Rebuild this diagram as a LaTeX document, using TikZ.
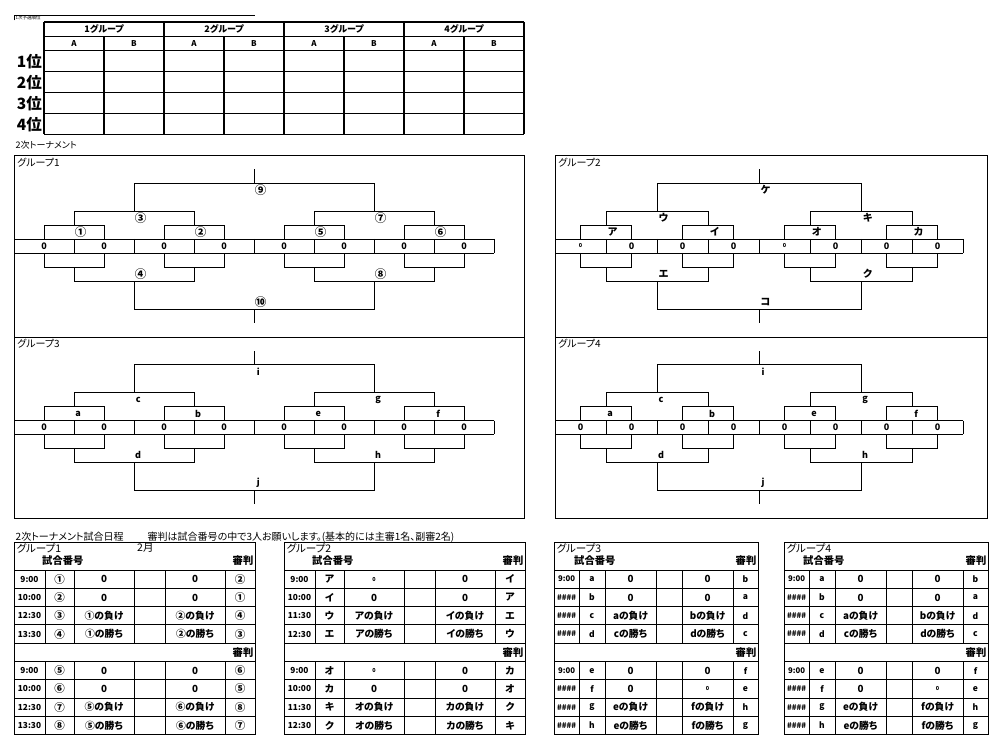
\documentclass[tikz,border=0pt]{standalone}
\usepackage{fontspec}
\setmainfont{Noto Sans CJK JP}[RawFeature=+palt]
\newcommand{\fs}[1]{\fontsize{#1}{#1}\selectfont}
\newcommand{\sm}{\fontsize{5.5}{5.5}\selectfont}
\tikzset{
  tt/.style={line width=1.2pt},
  bl/.style={line width=0.9pt},
  tl/.style={line width=0.9pt},
  blab/.style={inner sep=0pt, font=\fs{11.5}\bfseries},
  slab/.style={inner sep=0pt, font=\fs{9}\bfseries},
  bz/.style={inner sep=0pt, font=\fs{9}\bfseries},
  td/.style={inner sep=0pt, font=\fs{9.8}\bfseries},
  tm/.style={inner sep=0pt, font=\fs{8.3}\bfseries},
  ttl/.style={inner sep=0pt, font=\fs{10}},
  hdr/.style={inner sep=0pt, font=\fs{9}\bfseries},
}
% bracket lines in cell/row units
\newcommand{\bracketlines}[1]{%
  \draw[bl] (0,0) rectangle (#1,13);
  \draw[bl] (0,6) -- (8,6) (0,7) -- (8,7);
  \foreach \i in {0,...,8} {\draw[bl] (\i,6) -- (\i,7);}
  \foreach \k in {0,2,4,6} {%
    \draw[bl] (\k+0.5,6) -- (\k+0.5,5) -- (\k+1.5,5) -- (\k+1.5,6);
    \draw[bl] (\k+0.5,7) -- (\k+0.5,8) -- (\k+1.5,8) -- (\k+1.5,7);}
  \foreach \k in {0,4} {%
    \draw[bl] (\k+1,5) -- (\k+1,4) -- (\k+3,4) -- (\k+3,5);
    \draw[bl] (\k+1,8) -- (\k+1,9) -- (\k+3,9) -- (\k+3,8);}
  \draw[bl] (2,4) -- (2,2) -- (6,2) -- (6,4);
  \draw[bl] (4,2) -- (4,1);
  \draw[bl] (2,9) -- (2,11) -- (6,11) -- (6,9);
  \draw[bl] (4,11) -- (4,12);
}
% schedule table frame
\newcommand{\sched}[9]{%
  \draw[tl] (#1,542) rectangle (#7,734.5);
  \foreach \k in {0,...,8} {\draw[tl] (#1,{570+18.3*\k}) -- (#7,{570+18.3*\k});}
  \foreach \xx in {#2,#3,#4,#5,#6} {\draw[tl] (\xx,570) -- (\xx,643.2); \draw[tl] (\xx,661.5) -- (\xx,734.5);}
  \node[ttl,anchor=west,font=\fs{10.5}] at ({#1+2.5},548) {#8};
  \node[ttl,anchor=west,font=\fs{10.3}\bfseries] at (#9,560.5) {試合番号};
  \node[ttl,anchor=east,font=\fs{10.3}\bfseries] at ({#7-1.5},560.5) {審判};
  \node[ttl,anchor=east,font=\fs{10.3}\bfseries] at ({#7-1.5},652.3) {審判};
}
\begin{document}
\begin{tikzpicture}[x=1pt,y=-1pt]
\useasboundingbox (0,0) rectangle (995,735);
\fill[white] (0,0) rectangle (995,735);

% ---------- top ranking table ----------
\draw[tl] (14,20.5) -- (14,15) -- (255,15);
\node[anchor=north west, inner sep=0pt, font=\fs{4.5}] (pre) at (15.5,16) {1次予選順位};
\foreach \y in {22,36.7,50.7,71.7,92.7,113.6,134.5} {\draw[tt] (44,\y) -- (524,\y);}
\foreach \x in {44,164,284,404,524} {\draw[tt] (\x,22) -- (\x,134.5);}
\foreach \x in {104,224,344,464} {\draw[tt] (\x,36.7) -- (\x,134.5);}
\foreach \g [count=\n] in {1,2,3,4} {
  \node[hdr] (gh\n) at ({104+120*(\n-1)},29.5) {\g グループ};
  \node[hdr,font=\fs{8}\bfseries] (ga\n) at ({74+120*(\n-1)},43.8) {A};
  \node[hdr,font=\fs{8}\bfseries] (gb\n) at ({134+120*(\n-1)},43.8) {B};
}
\foreach \r/\yy in {1/61.3,2/82.3,3/103.2,4/124.2} {
  \node[inner sep=0pt, anchor=east, font=\fs{15.5}\bfseries] (rk\r) at (42,\yy) {\r 位};
}
\node[anchor=west, inner sep=0pt, font=\fs{9}] (t2) at (15.5,145.5) {2次トーナメント};

% ---------- group 1 bracket ----------
\begin{scope}[shift={(14pt,-155pt)}, x=60pt, y=-14pt]
  \bracketlines{8.5}
  \foreach \c/\r/\t [count=\n] in {4/2.5/⑨, 2/4.5/③, 6/4.5/⑦, 1/5.5/①, 3/5.5/②, 5/5.5/⑤, 7/5.5/⑥, 2/8.5/④, 6/8.5/⑧, 4/10.5/⑩}
    {\node[blab] (gA\n) at ({\c+0.11},\r) {\t};}
  \foreach \c [count=\n] in {0.5,1.5,2.5,3.5,4.5,5.5,6.5,7.5}
    {\node[bz] (zA\n) at (\c,6.5) {0};}
\end{scope}
\node[ttl,anchor=west] (n1) at (17,163) {グループ1};

% ---------- group 2 bracket ----------
\begin{scope}[shift={(555pt,-155pt)}, x=51pt, y=-14pt]
  \bracketlines{8.47}
  \foreach \c/\r/\t [count=\n] in {4/2.5/ケ, 2/4.5/ウ, 6/4.5/キ, 1/5.5/ア, 3/5.5/イ, 5/5.5/オ, 7/5.5/カ, 2/8.5/エ, 6/8.5/ク, 4/10.5/コ}
    {\node[blab,font=\fs{10}\bfseries] (gB\n) at ({\c+0.13},\r) {\t};}
  \foreach \c [count=\n] in {1.5,2.5,3.5,5.5,6.5,7.5}
    {\node[bz] (zB\n) at (\c,6.5) {0};}
  \node[bz,font=\sm\bfseries] (zB7) at (0.5,6.5) {0};
  \node[bz,font=\sm\bfseries] (zB8) at (4.5,6.5) {0};
\end{scope}
\node[ttl,anchor=west] (n2) at (558,163) {グループ2};

% ---------- group 3 bracket ----------
\begin{scope}[shift={(14pt,-337pt)}, x=60pt, y=-13.92pt]
  \bracketlines{8.5}
  \foreach \c/\r/\t [count=\n] in {4/2.5/i, 2/4.5/c, 6/4.5/g, 1/5.5/a, 3/5.5/b, 5/5.5/e, 7/5.5/f, 2/8.5/d, 6/8.5/h, 4/10.5/j}
    {\node[slab] (gC\n) at ({\c+0.07},\r) {\t};}
  \foreach \c [count=\n] in {0.5,1.5,2.5,3.5,4.5,5.5,6.5,7.5}
    {\node[bz] (zC\n) at (\c,6.5) {0};}
\end{scope}
\node[ttl,anchor=west] (n3) at (17,343.5) {グループ3};

% ---------- group 4 bracket ----------
\begin{scope}[shift={(555pt,-337pt)}, x=51pt, y=-13.92pt]
  \bracketlines{8.47}
  \foreach \c/\r/\t [count=\n] in {4/2.5/i, 2/4.5/c, 6/4.5/g, 1/5.5/a, 3/5.5/b, 5/5.5/e, 7/5.5/f, 2/8.5/d, 6/8.5/h, 4/10.5/j}
    {\node[slab] (gD\n) at ({\c+0.08},\r) {\t};}
  \foreach \c [count=\n] in {0.5,1.5,2.5,3.5,4.5,5.5,6.5,7.5}
    {\node[bz] (zD\n) at (\c,6.5) {0};}
\end{scope}
\node[ttl,anchor=west] (n4) at (558,343.5) {グループ4};

% ---------- schedule ----------
\node[ttl,anchor=west] (sh) at (15.5,537) {2次トーナメント試合日程\hspace{2.4em}審判は試合番号の中で3人お願いします。(基本的には主審1名、副審2名)};

\sched{14}{45}{74}{134}{165}{225}{255}{グループ1}{42}
\node[ttl,anchor=west,font=\fs{10.5}] (feb) at (137,548) {2月};
\def\ca{29.5}\def\cb{59.5}\def\cc{104}\def\cd{195}\def\ce{240}
\foreach \k/\a/\b/\c/\d/\e [count=\n] in {1/9:00/①/0/0/②, 2/10:00/②/0/0/①, 3/12:30/③/①の負け/②の負け/④, 4/13:30/④/①の勝ち/②の勝ち/③, 6/9:00/⑤/0/0/⑥, 7/10:00/⑥/0/0/⑤, 8/12:30/⑦/⑤の負け/⑥の負け/⑧, 9/13:30/⑧/⑤の勝ち/⑥の勝ち/⑦}{
  \node[tm] (sA\n t) at (\ca,{570+18.3*(\k-0.5)}) {\a};
  \node[td,font=\fs{10.5}\bfseries] (sA\n n) at (\cb,{570+18.3*(\k-0.5)}) {\b};
  \node[td] (sA\n a) at (\cc,{570+18.3*(\k-0.5)}) {\c};
  \node[td] (sA\n b) at (\cd,{570+18.3*(\k-0.5)}) {\d};
  \node[td,font=\fs{10.5}\bfseries] (sA\n r) at (\ce,{570+18.3*(\k-0.5)}) {\e};
}

\sched{284}{315}{344}{404}{435}{495}{525}{グループ2}{312}
\def\ca{299.5}\def\cb{329.5}\def\cc{374}\def\cd{465}\def\ce{510}
\foreach \k/\a/\b/\c/\d/\e [count=\n] in {1/9:00/ア/{\sm 0}/0/イ, 2/10:00/イ/0/0/ア, 3/11:30/ウ/アの負け/イの負け/エ, 4/12:30/エ/アの勝ち/イの勝ち/ウ, 6/9:00/オ/{\sm 0}/0/カ, 7/10:00/カ/0/0/オ, 8/11:30/キ/オの負け/カの負け/ク, 9/12:30/ク/オの勝ち/カの勝ち/キ}{
  \node[tm] (sB\n t) at (\ca,{570+18.3*(\k-0.5)}) {\a};
  \node[td] (sB\n n) at (\cb,{570+18.3*(\k-0.5)}) {\b};
  \node[td] (sB\n a) at (\cc,{570+18.3*(\k-0.5)}) {\c};
  \node[td] (sB\n b) at (\cd,{570+18.3*(\k-0.5)}) {\d};
  \node[td] (sB\n r) at (\ce,{570+18.3*(\k-0.5)}) {\e};
}

\sched{554}{579}{605}{656}{682}{733}{758}{グループ3}{574}
\def\ca{566.5}\def\cb{592}\def\cc{630.5}\def\cd{707.5}\def\ce{745.5}
\foreach \k/\a/\b/\c/\d/\e [count=\n] in {1/9:00/a/0/0/b, 2/\#\#\#\#/b/0/0/a, 3/\#\#\#\#/c/aの負け/bの負け/d, 4/\#\#\#\#/d/cの勝ち/dの勝ち/c, 6/9:00/e/0/0/f, 7/\#\#\#\#/f/0/{\sm 0}/e, 8/\#\#\#\#/g/eの負け/fの負け/h, 9/\#\#\#\#/h/eの勝ち/fの勝ち/g}{
  \node[tm,font=\fs{7.8}\bfseries] (sC\n t) at (\ca,{570+18.3*(\k-0.5)}) {\a};
  \node[td,font=\fs{8.5}\bfseries] (sC\n n) at (\cb,{570+18.3*(\k-0.5)}) {\b};
  \node[td] (sC\n a) at (\cc,{570+18.3*(\k-0.5)}) {\c};
  \node[td] (sC\n b) at (\cd,{570+18.3*(\k-0.5)}) {\d};
  \node[td,font=\fs{8.5}\bfseries] (sC\n r) at (\ce,{570+18.3*(\k-0.5)}) {\e};
}

\sched{784}{809}{835}{886}{912}{963}{988}{グループ4}{803}
\def\ca{796.5}\def\cb{822}\def\cc{860.5}\def\cd{937.5}\def\ce{975.5}
\foreach \k/\a/\b/\c/\d/\e [count=\n] in {1/9:00/a/0/0/b, 2/\#\#\#\#/b/0/0/a, 3/\#\#\#\#/c/aの負け/bの負け/d, 4/\#\#\#\#/d/cの勝ち/dの勝ち/c, 6/9:00/e/0/0/f, 7/\#\#\#\#/f/0/{\sm 0}/e, 8/\#\#\#\#/g/eの負け/fの負け/h, 9/\#\#\#\#/h/eの勝ち/fの勝ち/g}{
  \node[tm,font=\fs{7.8}\bfseries] (sD\n t) at (\ca,{570+18.3*(\k-0.5)}) {\a};
  \node[td,font=\fs{8.5}\bfseries] (sD\n n) at (\cb,{570+18.3*(\k-0.5)}) {\b};
  \node[td] (sD\n a) at (\cc,{570+18.3*(\k-0.5)}) {\c};
  \node[td] (sD\n b) at (\cd,{570+18.3*(\k-0.5)}) {\d};
  \node[td,font=\fs{8.5}\bfseries] (sD\n r) at (\ce,{570+18.3*(\k-0.5)}) {\e};
}
\end{tikzpicture}
\end{document}
